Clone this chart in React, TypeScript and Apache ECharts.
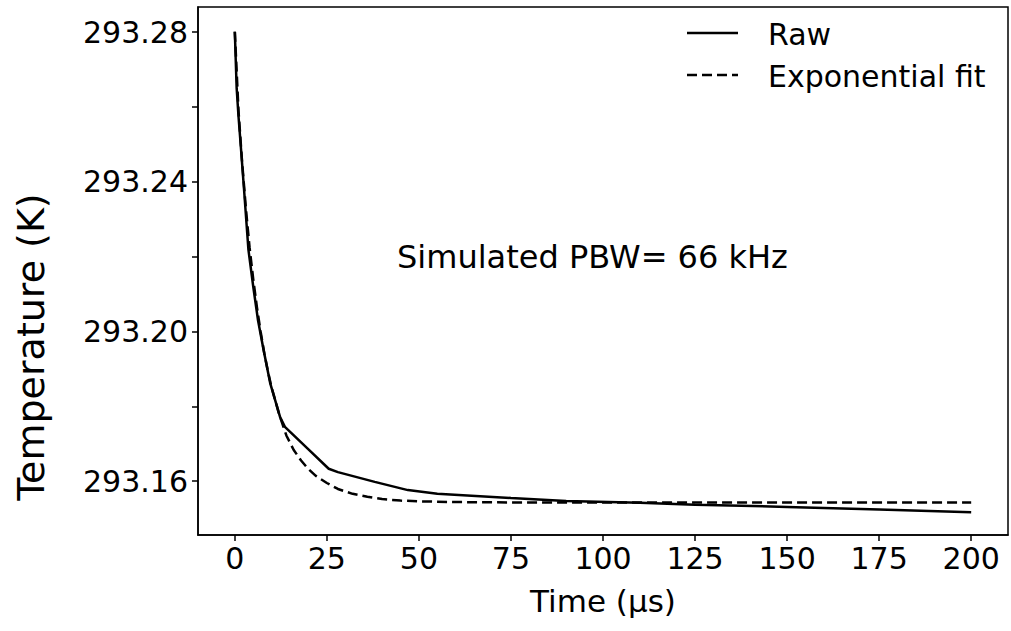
import React, { useEffect, useRef } from "react";
import * as echarts from "echarts";

// Time (µs) and temperature (K)
const rawTime = [0, 0.5, 1, 1.7, 2.5, 3.7, 5, 6.3, 7.8, 9.6, 12.3, 13.6, 20, 25.5, 28, 38, 47, 55, 75, 90, 110, 125, 150, 175, 200];
const rawTemp = [293.2801, 293.265, 293.2575, 293.2485, 293.238, 293.2218, 293.212, 293.203, 293.1951, 293.1862, 293.1771, 293.1745, 293.1685, 293.1633, 293.1624, 293.1598, 293.1576, 293.1566, 293.1555, 293.1547, 293.1542, 293.1537, 293.1531, 293.1524, 293.1517];

const fitTime = [0, 1, 2, 3, 4, 5, 6, 7, 8, 9, 10, 12, 14, 16, 18, 20, 22, 25, 28, 32, 36, 40, 45, 50, 60, 75, 100, 125, 150, 175, 200];
const fitTemp = [293.2801, 293.259, 293.245, 293.233, 293.2225, 293.214, 293.2065, 293.2, 293.1942, 293.1893, 293.185, 293.178, 293.1722, 293.1683, 293.1655, 293.1632, 293.1614, 293.1595, 293.1579, 293.1566, 293.1558, 293.1552, 293.1548, 293.1546, 293.1544, 293.1543, 293.1543, 293.1543, 293.1543, 293.1543, 293.1543];

const xTicks = [0, 25, 50, 75, 100, 125, 150, 175, 200];
const yLabelTicks = [293.16, 293.2, 293.24, 293.28];
const yTicks = [293.16, 293.18, 293.2, 293.22, 293.24, 293.26, 293.28];

const seriesNames = ["Raw", "Exponential fit"];
const xTitle = "Time (µs)";
const yTitle = "Temperature (K)";
const annotation = "Simulated PBW= 66 kHz";

const FONT = "DejaVu Sans";
const DASH = [10, 5];

export default function App() {
  const ref = useRef<HTMLDivElement>(null);
  useEffect(() => {
    if (!ref.current) return;
    const chart = echarts.init(ref.current, undefined, { renderer: "svg" });
    const rawData = rawTime.map((t, i) => [t, rawTemp[i]]);
    const fitData = fitTime.map((t, i) => [t, fitTemp[i]]);
    const legendY = [33, 75];
    const legendGraphics: any[] = [];
    seriesNames.forEach((name, i) => {
      legendGraphics.push({
        type: "line",
        shape: { x1: 687, y1: legendY[i], x2: 738, y2: legendY[i] },
        style: { stroke: "#000", lineWidth: 2.5, lineDash: i === 1 ? DASH : null },
      });
      legendGraphics.push({
        type: "text",
        x: 768,
        y: legendY[i] + 1,
        style: { text: name, fontFamily: FONT, fontSize: 30, fill: "#000", textAlign: "left", textVerticalAlign: "middle" },
      });
    });
    chart.setOption({
      animation: false,
      backgroundColor: "#fff",
      textStyle: { fontFamily: FONT, color: "#000" },
      grid: {
        left: 198,
        top: 7,
        right: 3,
        bottom: 96,
        show: true,
        borderColor: "#000",
        borderWidth: 1.5,
        backgroundColor: "transparent",
        containLabel: false,
      },
      xAxis: {
        type: "value",
        min: -10,
        max: 210,
        name: xTitle,
        nameLocation: "middle",
        nameGap: 50,
        nameTextStyle: { fontFamily: FONT, fontSize: 31, color: "#000" },
        splitLine: { show: false },
        axisLine: { show: true, onZero: false, lineStyle: { color: "#000", width: 1.5 } },
        axisTick: { show: true, length: 6, inside: false, lineStyle: { color: "#000", width: 1.5 }, customValues: xTicks },
        axisLabel: { fontFamily: FONT, fontSize: 30, color: "#000", margin: 8, customValues: xTicks, formatter: (v: number) => String(Math.round(v)) },
      },
      yAxis: {
        type: "value",
        min: 293.1456,
        max: 293.2867,
        splitLine: { show: false },
        axisLine: { show: true, onZero: false, lineStyle: { color: "#000", width: 1.5 } },
        axisTick: { show: true, length: 6, inside: false, lineStyle: { color: "#000", width: 1.5 }, customValues: yTicks },
        axisLabel: { fontFamily: FONT, fontSize: 30, color: "#000", margin: 10, customValues: yLabelTicks, formatter: (v: number) => v.toFixed(2) },
      },
      graphic: [
        {
          type: "text",
          x: 31,
          y: 347,
          rotation: Math.PI / 2,
          style: { text: yTitle, fontFamily: FONT, fontSize: 38, fill: "#000", textAlign: "center", textVerticalAlign: "middle" },
        },
        {
          type: "text",
          x: 397,
          y: 257,
          style: { text: annotation, fontFamily: FONT, fontSize: 32, fill: "#000", textAlign: "left", textVerticalAlign: "middle" },
        },
        ...legendGraphics,
      ],
      series: [
        {
          name: seriesNames[0],
          type: "line",
          data: rawData,
          symbol: "none",
          showSymbol: false,
          lineStyle: { color: "#000", width: 2.5, type: "solid" },
          itemStyle: { color: "#000" },
          z: 2,
        },
        {
          name: seriesNames[1],
          type: "line",
          data: fitData,
          symbol: "none",
          showSymbol: false,
          lineStyle: { color: "#000", width: 2.5, type: DASH },
          itemStyle: { color: "#000" },
          z: 3,
        },
      ],
    });
    return () => chart.dispose();
  }, []);
  return <div ref={ref} style={{ position: "absolute", left: 0, top: 0, width: 1011, height: 631 }} />;
}
